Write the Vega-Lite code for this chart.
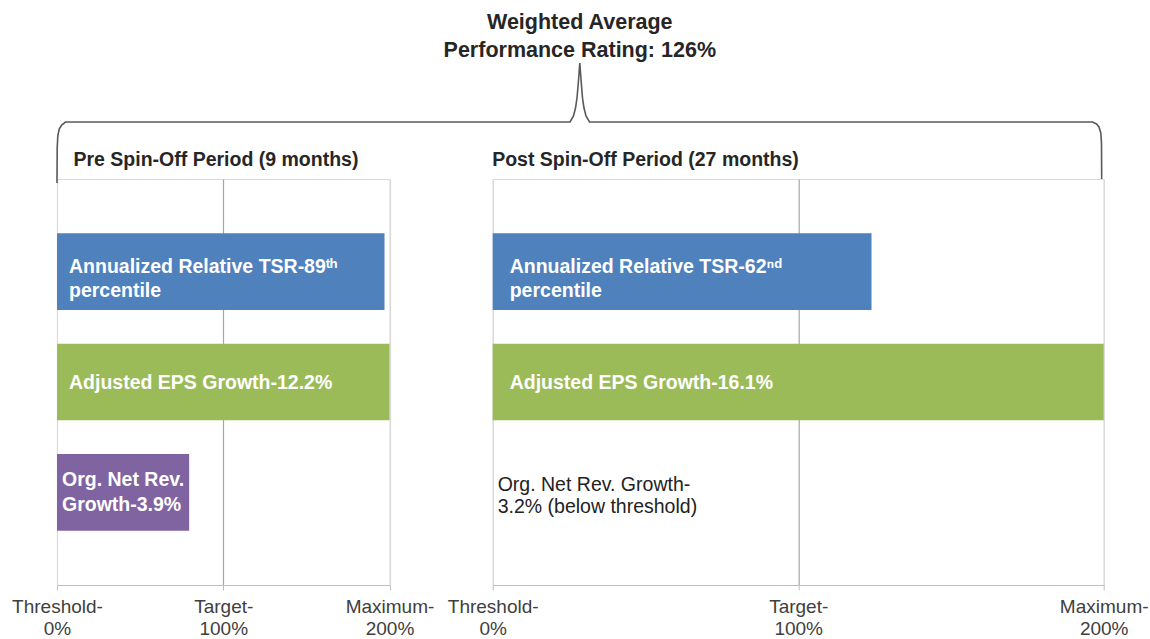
{
  "$schema": "https://vega.github.io/schema/vega-lite/v6.json",
  "background": "white",
  "padding": {"left": 11, "top": 11, "right": 0, "bottom": 0},
  "config": {
    "font": "Liberation Sans",
    "view": {"stroke": "#d9d9d9", "strokeWidth": 1},
    "axisX": {
      "labelExpr": "datum.value == 0 ? ['Threshold-', '0%'] : datum.value == 100 ? ['Target-', '100%'] : ['Maximum-', '200%']",
      "title": null,
      "grid": true,
      "gridColor": {"condition": {"test": "datum.value == 100", "value": "#a6a6a6"}, "value": "#d9d9d9"},
      "gridWidth": 1.2,
      "domainColor": "#bfbfbf",
      "domainWidth": 1.2,
      "tickColor": "#bfbfbf",
      "tickSize": 5,
      "labelFont": "Liberation Sans",
      "labelFontSize": 19,
      "labelColor": "#404040",
      "labelLineHeight": 22,
      "labelPadding": 7,
      "labelOverlap": false,
      "labelFlush": false,
      "labelBound": false
    }
  },
  "datasets": {
    "pre": [
      {"metric": "TSR", "value": 197, "label": "Annualized Relative TSR-89ᵗʰ\npercentile"},
      {"metric": "EPS", "value": 200, "label": "Adjusted EPS Growth-12.2%"},
      {"metric": "Org", "value": 79.5, "label": "Org. Net Rev.\nGrowth-3.9%"}
    ],
    "post": [
      {"metric": "TSR", "value": 124, "label": "Annualized Relative TSR-62ⁿᵈ\npercentile"},
      {"metric": "EPS", "value": 200, "label": "Adjusted EPS Growth-16.1%"},
      {"metric": "Org", "value": 0, "label": "Org. Net Rev. Growth-\n3.2% (below threshold)"}
    ],
    "brace": [
      {"pos": 0, "h": 402},
      {"pos": 0.12, "h": 437},
      {"pos": 0.48, "h": 449},
      {"pos": 1.32, "h": 456},
      {"pos": 2.83, "h": 460},
      {"pos": 5.11, "h": 463},
      {"pos": 308.57, "h": 463},
      {"pos": 310.67, "h": 469},
      {"pos": 311.88, "h": 477},
      {"pos": 312.78, "h": 487},
      {"pos": 313.56, "h": 502},
      {"pos": 314.46, "h": 522},
      {"pos": 315.37, "h": 502},
      {"pos": 316.09, "h": 487},
      {"pos": 316.99, "h": 477},
      {"pos": 318.19, "h": 469},
      {"pos": 320.3, "h": 463},
      {"pos": 622.85, "h": 463},
      {"pos": 625.26, "h": 461},
      {"pos": 626.76, "h": 458},
      {"pos": 627.85, "h": 452},
      {"pos": 628.27, "h": 442},
      {"pos": 628.39, "h": 405}
    ],
    "headline": [
      {"pos": 314.46, "h": 522, "text": "Weighted Average\nPerformance Rating: 126%"}
    ],
    "periods": [
      {"pos": 0, "h": 419, "text": "Pre Spin-Off Period (9 months)", "indent": "yes"},
      {"pos": 261.77, "h": 419, "text": "Post Spin-Off Period (27 months)", "indent": "no"}
    ]
  },
  "bounds": "flush",
  "spacing": 102.7,
  "hconcat": [
    {
      "width": 332.5,
      "height": 406,
      "layer": [
        {
          "data": {"name": "pre"},
          "layer": [
            {
              "mark": {"type": "bar"},
              "encoding": {
                "y": {"field": "metric", "type": "nominal", "sort": ["TSR", "EPS", "Org"], "scale": {"paddingInner": 0.306, "paddingOuter": 0.492}, "axis": null},
                "x": {"field": "value", "type": "quantitative", "scale": {"domain": [0, 200], "nice": false}, "axis": {"values": [0, 100, 200]}},
                "color": {"field": "metric", "type": "nominal", "scale": {"domain": ["TSR", "EPS", "Org"], "range": ["#4f81bd", "#9bbb59", "#8064a2"]}, "legend": null}
              }
            },
            {
              "transform": [{"filter": "datum.metric == 'TSR'"}],
              "mark": {"type": "text", "align": "left", "baseline": "middle", "dx": 12, "dy": -4.5, "color": "white", "fontWeight": "bold", "fontSize": 19.5, "lineBreak": "\n", "lineHeight": 24},
              "encoding": {
                "y": {"field": "metric", "type": "nominal", "sort": ["TSR", "EPS", "Org"]},
                "x": {"datum": 0, "type": "quantitative"},
                "text": {"field": "label"}
              }
            },
            {
              "transform": [{"filter": "datum.metric == 'EPS'"}],
              "mark": {"type": "text", "align": "left", "baseline": "middle", "dx": 12, "dy": 1, "color": "white", "fontWeight": "bold", "fontSize": 19.5, "lineBreak": "\n", "lineHeight": 24},
              "encoding": {
                "y": {"field": "metric", "type": "nominal", "sort": ["TSR", "EPS", "Org"]},
                "x": {"datum": 0, "type": "quantitative"},
                "text": {"field": "label"}
              }
            },
            {
              "transform": [{"filter": "datum.metric == 'Org'"}],
              "mark": {"type": "text", "align": "left", "baseline": "middle", "dx": 5, "dy": -12, "color": "white", "fontWeight": "bold", "fontSize": 19.5, "lineBreak": "\n", "lineHeight": 25},
              "encoding": {
                "y": {"field": "metric", "type": "nominal", "sort": ["TSR", "EPS", "Org"]},
                "x": {"datum": 0, "type": "quantitative"},
                "text": {"field": "label"}
              }
            }
          ]
        },
        {
          "layer": [
            {
              "data": {"name": "brace"},
              "mark": {"type": "line", "color": "#595959", "strokeWidth": 1.6, "clip": false},
              "encoding": {
                "x": {"field": "pos", "type": "quantitative", "scale": {"domain": [0, 200], "nice": false}, "axis": null},
                "y": {"field": "h", "type": "quantitative", "scale": {"domain": [0, 406], "nice": false}, "axis": null}
              }
            },
            {
              "data": {"name": "headline"},
              "mark": {"type": "text", "align": "center", "baseline": "middle", "dy": -40, "fontSize": 21.5, "fontWeight": "bold", "color": "#262626", "lineBreak": "\n", "lineHeight": 28, "clip": false},
              "encoding": {
                "x": {"field": "pos", "type": "quantitative"},
                "y": {"field": "h", "type": "quantitative"},
                "text": {"field": "text"}
              }
            },
            {
              "data": {"name": "periods"},
              "transform": [{"filter": "datum.indent == 'yes'"}],
              "mark": {"type": "text", "align": "left", "baseline": "alphabetic", "dx": 16.5, "fontSize": 19.5, "fontWeight": "bold", "color": "#262626", "clip": false},
              "encoding": {
                "x": {"field": "pos", "type": "quantitative"},
                "y": {"field": "h", "type": "quantitative"},
                "text": {"field": "text"}
              }
            },
            {
              "data": {"name": "periods"},
              "transform": [{"filter": "datum.indent == 'no'"}],
              "mark": {"type": "text", "align": "left", "baseline": "alphabetic", "dx": 0, "fontSize": 19.5, "fontWeight": "bold", "color": "#262626", "clip": false},
              "encoding": {
                "x": {"field": "pos", "type": "quantitative"},
                "y": {"field": "h", "type": "quantitative"},
                "text": {"field": "text"}
              }
            }
          ]
        }
      ],
      "resolve": {"scale": {"x": "independent", "y": "independent"}}
    },
    {
      "width": 611,
      "height": 406,
      "data": {"name": "post"},
      "layer": [
        {
          "mark": {"type": "bar"},
          "encoding": {
            "y": {"field": "metric", "type": "nominal", "sort": ["TSR", "EPS", "Org"], "scale": {"paddingInner": 0.306, "paddingOuter": 0.492}, "axis": null},
            "x": {"field": "value", "type": "quantitative", "scale": {"domain": [0, 200], "nice": false}, "axis": {"values": [0, 100, 200]}},
            "color": {"field": "metric", "type": "nominal", "scale": {"domain": ["TSR", "EPS", "Org"], "range": ["#4f81bd", "#9bbb59", "#8064a2"]}, "legend": null}
          }
        },
        {
          "transform": [{"filter": "datum.metric == 'TSR'"}],
          "mark": {"type": "text", "align": "left", "baseline": "middle", "dx": 17, "dy": -4.5, "color": "white", "fontWeight": "bold", "fontSize": 19.5, "lineBreak": "\n", "lineHeight": 24},
          "encoding": {
            "y": {"field": "metric", "type": "nominal", "sort": ["TSR", "EPS", "Org"]},
            "x": {"datum": 0, "type": "quantitative"},
            "text": {"field": "label"}
          }
        },
        {
          "transform": [{"filter": "datum.metric == 'EPS'"}],
          "mark": {"type": "text", "align": "left", "baseline": "middle", "dx": 17, "dy": 1, "color": "white", "fontWeight": "bold", "fontSize": 19.5, "lineBreak": "\n", "lineHeight": 24},
          "encoding": {
            "y": {"field": "metric", "type": "nominal", "sort": ["TSR", "EPS", "Org"]},
            "x": {"datum": 0, "type": "quantitative"},
            "text": {"field": "label"}
          }
        },
        {
          "transform": [{"filter": "datum.metric == 'Org'"}],
          "mark": {"type": "text", "align": "left", "baseline": "middle", "dx": 5, "dy": -7, "color": "#222222", "fontWeight": "normal", "fontSize": 19.5, "lineBreak": "\n", "lineHeight": 22},
          "encoding": {
            "y": {"field": "metric", "type": "nominal", "sort": ["TSR", "EPS", "Org"]},
            "x": {"datum": 0, "type": "quantitative"},
            "text": {"field": "label"}
          }
        }
      ]
    }
  ]
}
